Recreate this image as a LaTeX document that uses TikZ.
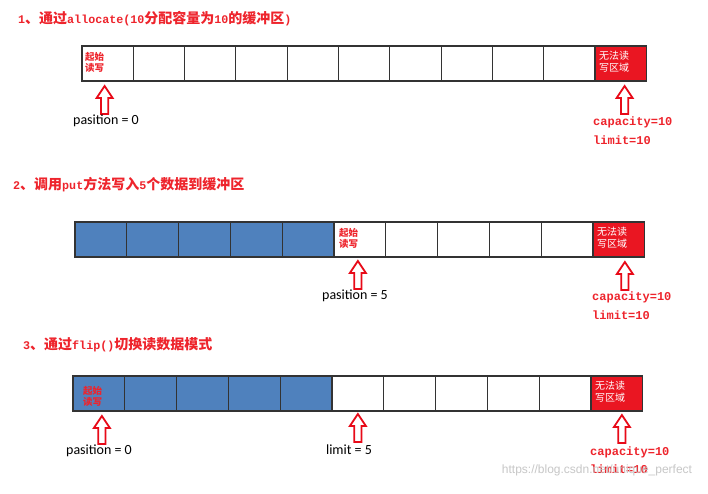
\documentclass[tikz,border=0pt]{standalone}
\usepackage{fontspec}
\newfontfamily\cjk{Noto Sans CJK SC}
\newfontfamily\mono{Liberation Mono}
\newfontfamily\calib{Carlito}
\newfontfamily\wmfont{Liberation Sans}
\definecolor{titred}{RGB}{238,36,44}
\definecolor{cellblue}{RGB}{79,129,189}
\definecolor{cellred}{RGB}{234,22,34}
\definecolor{arrred}{RGB}{232,10,24}
\newcommand\lat[1]{{\mono\bfseries\fontsize{11.7}{14}\selectfont #1}}
\tikzset{
  cellbase/.style={draw=black!80, line width=1.1pt, minimum height=35pt, inner sep=0pt, outer sep=0pt},
  bluecell/.style={cellbase, fill=cellblue},
  whitecell/.style={cellbase, fill=white},
  redcell/.style={cellbase, fill=cellred},
  title/.style={anchor=west, text=titred, inner sep=0pt, font=\cjk\bfseries\fontsize{14}{16}\selectfont},
  startlbl/.style={anchor=north west, align=left, text=titred, inner sep=0pt, font=\cjk\bfseries\fontsize{9.5}{11.5}\selectfont},
  nolbl/.style={anchor=north west, align=left, text=white, inner sep=0pt, font=\cjk\fontsize{10}{11.5}\selectfont},
  poslbl/.style={inner sep=0pt, text=black, font=\calib\fontsize{14}{16}\selectfont},
  caplbl/.style={anchor=west, text=titred, inner sep=0pt, font=\mono\bfseries\fontsize{12}{14}\selectfont},
  arrowline/.style={draw=arrred, line width=1.8pt, fill=white, line join=miter},
  uparr/.pic={\path[arrowline] (0,0) -- (8,12) -- (3.6,12) -- (3.6,28) -- (-3.6,28) -- (-3.6,12) -- (-8,12) -- cycle;}
}
% #1 prefix, #2 x0, #3 top, #4 number of blue cells, #5 cell width
\newcommand\bufrow[5]{%
  \foreach \i in {1,...,11}{%
    \ifnum\i=11 \def\st{redcell}\else\ifnum\i>#4 \def\st{whitecell}\else\def\st{bluecell}\fi\fi
    \node[\st, minimum width=#5pt, anchor=north west] (#1c\i) at ({#2+(\i-1)*#5},#3) {};
  }}
\begin{document}
\begin{tikzpicture}[x=1pt,y=-1pt]
\useasboundingbox[fill=white] (0,0) rectangle (708,494);

% ---------- row 1 ----------
\node[title] (t1) at (18,19) {\lat{1}、通过\lat{allocate(10}分配容量为\lat{10}的缓冲区\lat{)}};
\bufrow{r1}{82}{46}{0}{51.3}
\node[startlbl] (s1) at ([shift={(3,6)}]r1c1.north west) {起始\\读写};
\node[nolbl] (n1) at ([shift={(4,5)}]r1c11.north west) {无法读\\写区域};
\pic at ([shift={(-3,5)}]r1c1.south) {uparr};
\node[poslbl] (p1) at (106,121) {pasition = 0};
\pic at ([shift={(4,5)}]r1c11.south) {uparr};
\node[caplbl] (c1) at (593,122) {capacity=10};
\node[caplbl] (l1) at (593,140) {limit=10};

% ---------- row 2 ----------
\node[title] (t2) at (13,185) {\lat{2}、调用\lat{put}方法写入\lat{5}个数据到缓冲区};
\bufrow{r2}{75}{222}{5}{51.8}
\node[startlbl] (s2) at ([shift={(5,6)}]r2c6.north west) {起始\\读写};
\node[nolbl] (n2) at ([shift={(4,5)}]r2c11.north west) {无法读\\写区域};
\pic at ([shift={(-2,4)}]r2c6.south) {uparr};
\node[poslbl] (p2) at (355,296) {pasition = 5};
\pic at ([shift={(6,5)}]r2c11.south) {uparr};
\node[caplbl] (c2) at (592,297) {capacity=10};
\node[caplbl] (l2) at (592,315) {limit=10};

% ---------- row 3 ----------
\node[title] (t3) at (23,345) {\lat{3}、通过\lat{flip()}切换读数据模式};
\bufrow{r3}{73}{376}{5}{51.8}
\node[startlbl] (s3) at ([shift={(10,10)}]r3c1.north west) {起始\\读写};
\node[nolbl] (n3) at ([shift={(4,5)}]r3c11.north west) {无法读\\写区域};
\pic at ([shift={(3,5)}]r3c1.south) {uparr};
\node[poslbl] (p3) at (99,451) {pasition = 0};
\pic at ([shift={(0,3)}]r3c6.south) {uparr};
\node[poslbl] (lm3) at (349,450) {limit = 5};
\pic at ([shift={(5,4)}]r3c11.south) {uparr};
\node[caplbl] (c3) at (590,452) {capacity=10};
\node[caplbl] (l3) at (590,469) {limit=10};

% watermark
\node[inner sep=0pt, text=black!22, font=\wmfont\fontsize{12}{14}\selectfont] (wm) at (597,470) {https://blog.csdn.net/unique\_perfect};
\end{tikzpicture}
\end{document}
